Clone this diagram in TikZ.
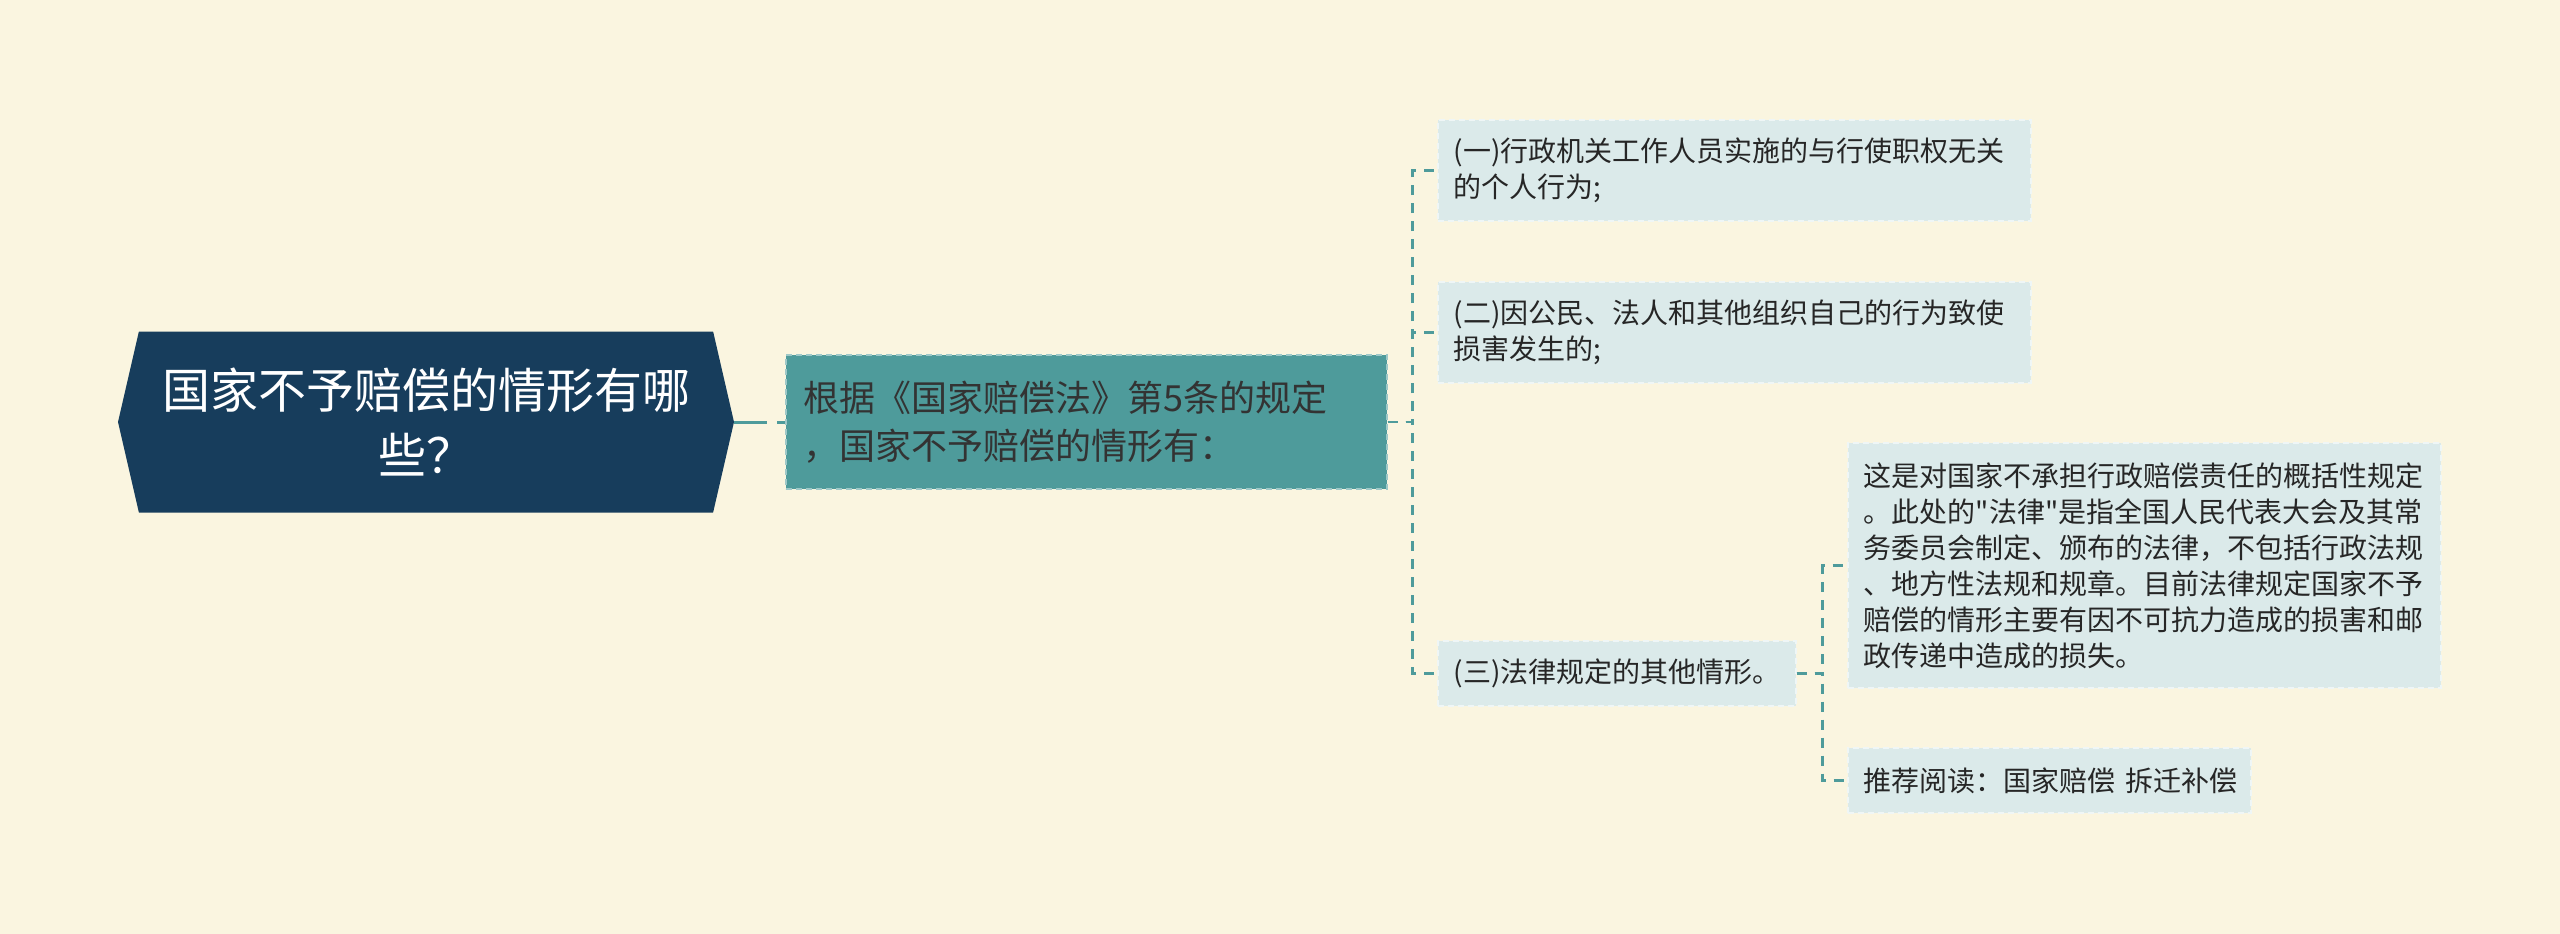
\documentclass[tikz,border=0pt]{standalone}
\usepackage{fontspec}
\usepackage{xcolor}
\usepackage{tikz}
\usetikzlibrary{positioning,shapes.symbols}

\newfontfamily\cjk{Noto Sans CJK SC}

\definecolor{bgcream}{HTML}{FAF5E0}
\definecolor{navy}{HTML}{173D5C}
\definecolor{mmteal}{HTML}{4E9B9B}
\definecolor{leafbg}{HTML}{DBEAEA}

\begin{document}
\begin{tikzpicture}[
  x=1pt, y=-1pt,
  topic/.style={shape=signal, signal to=west and east, signal pointer angle=154,
    fill=navy, text=white, align=center, inner sep=0pt,
    minimum width=616pt, minimum height=181pt, font=\cjk\fontsize{48}{65}\selectfont},
  basis/.style={fill=mmteal, draw=mmteal!55!white, line width=1.5pt, dash pattern=on 6pt off 4pt,
    align=left, inner xsep=18pt, inner ysep=0pt, text width=565pt, minimum height=134pt,
    text=black!80, font=\cjk\fontsize{36}{48}\selectfont},
  leaf/.style={fill=leafbg, draw=white!55!leafbg, line width=1.5pt, dash pattern=on 6pt off 4pt,
    align=left, inner xsep=16pt, inner ysep=0pt, text=black!85,
    font=\cjk\fontsize{28}{36}\selectfont},
  % -- connectors between the levels
  link/.style={draw=mmteal, line width=2.5pt, dash pattern=on 10pt off 8pt},
  trunk/.style={draw=mmteal, line width=3pt, dash pattern=on 33pt off 10pt}
]

\useasboundingbox (0,0) rectangle (2560,934);
\fill[bgcream] (0,0) rectangle (2560,934);

\node[topic] (root) at (426,422) {国家不予赔偿的情形有哪\\些？};
\node[basis, anchor=west] (law) at (785,422) {根据《国家赔偿法》第5条的规定\\，国家不予赔偿的情形有：};

\node[leaf, anchor=west, text width=561pt, minimum height=101pt] (c1) at (1437,170.5)
  {(一)行政机关工作人员实施的与行使职权无关\\的个人行为;};
\node[leaf, anchor=west, text width=561pt, minimum height=101pt] (c2) at (1437,332.5)
  {(二)因公民、法人和其他组织自己的行为致使\\损害发生的;};
\node[leaf, anchor=west, text width=326pt, minimum height=65pt] (c3) at (1437,673.5)
  {(三)法律规定的其他情形。};

\node[leaf, anchor=west, text width=561pt, minimum height=245pt] (d1) at (1847,565.5)
  {这是对国家不承担行政赔偿责任的概括性规定\\
   。此处的"法律"是指全国人民代表大会及其常\\
   务委员会制定、颁布的法律，不包括行政法规\\
   、地方性法规和规章。目前法律规定国家不予\\
   赔偿的情形主要有因不可抗力造成的损害和邮\\
   政传递中造成的损失。};
\node[leaf, anchor=west, text width=371pt, minimum height=65pt] (d2) at (1847,780.5)
  {\mbox{推荐阅读：国家赔偿~拆迁补偿}};

\draw[trunk] (root.east) -- (law.west);

\draw[link] (law.east) -- ++(25,0) |- (c1.west);
\draw[link] (law.east) -- ++(25,0) |- (c2.west);
\draw[link] (law.east) -- ++(25,0) |- (c3.west);

\draw[link] (c3.east) -- ++(26,0) |- (d1.west);
\draw[link] (c3.east) -- ++(26,0) |- (d2.west);

\end{tikzpicture}
\end{document}
